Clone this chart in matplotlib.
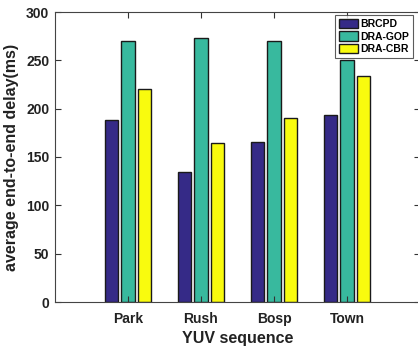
import matplotlib
matplotlib.use("Agg")
import matplotlib.pyplot as plt
import numpy as np

plt.rcParams['font.family'] = ['Liberation Sans', 'DejaVu Sans']
plt.rcParams['font.weight'] = 'bold'

sequences = ["Park", "Rush", "Bosp", "Town"]
series_names = ["BRCPD", "DRA-GOP", "DRA-CBR"]
brcpd = [188, 135, 166, 193]
dra_gop = [270, 273, 270, 250]
dra_cbr = [220, 164, 190, 234]
colors = ["#352a87", "#38b99e", "#f9fb0e"]

W, H = 418, 347
fig = plt.figure(figsize=(W / 100, H / 100), dpi=100)
ax = fig.add_axes([55 / W, (H - 302) / H, 365 / W, 290 / H])

x = np.arange(1, len(sequences) + 1)
offset = 0.223
width = 0.182
for i, (vals, name, c) in enumerate(zip([brcpd, dra_gop, dra_cbr], series_names, colors)):
    ax.bar(x + (i - 1) * offset, vals, width, color=c, edgecolor="#1a1a1a",
           linewidth=1.0, label=name)

ax.set_xlim(0, 5)
ax.set_ylim(0, 300)
ax.set_xticks(x)
ax.set_xticklabels(sequences)
ax.set_yticks(np.arange(0, 301, 50))
ax.tick_params(direction="in", top=True, right=True, length=4, width=0.8,
               colors="#333333", labelsize=10)
ax.tick_params(axis="x", pad=7)
ax.tick_params(axis="y", pad=4)
for lbl in ax.get_xticklabels() + ax.get_yticklabels():
    lbl.set_fontweight("bold")
    lbl.set_color("#222222")
for s in ax.spines.values():
    s.set_color("#444444")
    s.set_linewidth(0.8)

ax.set_xlabel("YUV sequence", fontsize=11.5, fontweight="bold", color="#222222", labelpad=4)
ax.set_ylabel("average end-to-end delay(ms)", fontsize=11.5, fontweight="bold",
              color="#222222", labelpad=5)

leg = ax.legend(loc="upper right", bbox_to_anchor=(413 / W, (H - 15) / H),
                bbox_transform=fig.transFigure, fontsize=7.5, frameon=True,
                fancybox=False, borderpad=0.35, labelspacing=0.2,
                handlelength=1.85, handleheight=1.05, handletextpad=0.2,
                borderaxespad=0)
leg.get_frame().set_edgecolor("#333333")
leg.get_frame().set_linewidth(0.8)
for t in leg.get_texts():
    t.set_fontweight("bold")

fig.savefig("out.png", dpi=100)
